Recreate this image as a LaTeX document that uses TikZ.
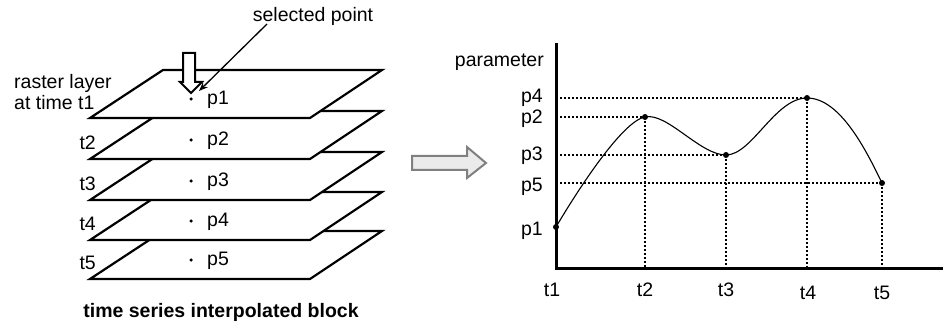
\documentclass[tikz,border=0pt]{standalone}
\usepackage{fontspec}
\setmainfont{Liberation Sans}
\usetikzlibrary{arrows.meta}
\begin{document}
\begin{tikzpicture}[x=1pt,y=-1pt,
  txt/.style={font=\fontsize{19.5}{23}\selectfont, inner sep=0pt},
  layer/.style={draw=black, line width=2.2pt, fill=white, line join=miter},
  smalldot/.style={circle, fill=black, inner sep=0pt, minimum size=3.5pt},
  bigdot/.style={circle, fill=black, inner sep=0pt, minimum size=6pt},
  guide/.style={line width=1.4pt, dash pattern=on 2pt off 2pt},
  axis/.style={line width=3pt},
  curve/.style={line width=1.1pt},
  pointer/.style={line width=1.3pt, -{Stealth[length=9pt,width=7pt]}},
  hollow/.style={draw=black, fill=white, line width=2pt, line join=miter},
  blockarrow/.style={draw=black!50, fill=black!8, line width=2pt, line join=miter}
]
\useasboundingbox (0,0) rectangle (943,326);

% ---- stack of raster layers (drawn bottom first) ----
\foreach \i/\top/\p/\t in {4/231/p5/t5, 3/192/p4/t4, 2/152/p3/t3, 1/111/p2/t2, 0/70/p1/t1}{
  \draw[layer] (163,\top) -- (382,\top) -- (310,\top+48) -- (90,\top+48) -- cycle;
  \node[smalldot] (d\i) at (191,\top+29) {};
  \node[txt, anchor=west] (l\i) at (207,\top+30) {\p};
}
\node[txt, anchor=east] (t2) at (96,143) {t2};
\node[txt, anchor=east] (t3) at (96,184) {t3};
\node[txt, anchor=east] (t4) at (96,224) {t4};
\node[txt, anchor=east] (t5) at (96,263) {t5};
\node[txt, anchor=west, align=left] (raster) at (14,92) {raster layer\\[-2pt]at time t1};

% hollow arrow pointing into the top layer
\draw[hollow] (183,53) -- (195,53) -- (195,82) -- (202,82) -- (191,93) -- (180,82) -- (183,82) -- cycle;

% selected point callout
\node[txt] (sel) at (313,16) {selected point};
\coordinate (selFrom) at (267,24);
\coordinate (selTip) at (199,91);
\draw[pointer] (selFrom) -- (selTip);

\node[txt, font=\fontsize{19.5}{23}\selectfont\bfseries] (caption) at (221,312) {time series interpolated block};

% ---- grey block arrow ----
\draw[blockarrow] (412,156) -- (467,156) -- (467,147) -- (486,163) -- (467,178) -- (467,170) -- (412,170) -- cycle;

% ---- parameter plot ----
\coordinate (O) at (556,268);
\coordinate (Ytop) at (556,43);
\coordinate (Xend) at (943,268);

\coordinate (P1) at (556,227);
\coordinate (P2) at (645,117);
\coordinate (P3) at (726,155);
\coordinate (P4) at (807,98);
\coordinate (P5) at (882,183);

% guide lines
\foreach \P in {P1,P2,P3,P4,P5}{
  \draw[guide] (O |- \P) -- (\P);
}
\foreach \P in {P2,P3,P4,P5}{
  \draw[guide] (\P) -- (\P |- O);
}

% interpolated curve
\draw[curve] (P1) .. controls (576,193) and (622,121) .. (P2)
             .. controls (667,112) and (700,155) .. (P3)
             .. controls (752,155) and (775,98) .. (P4)
             .. controls (840,98) and (866,150) .. (P5);

\foreach \P in {P1,P2,P3,P4,P5}{
  \node[bigdot] (dot\P) at (\P) {};
}

% axes
\draw[axis] (Ytop) -- (O) -- (Xend);

% axis labels
\node[txt, anchor=east] (par) at (544,62) {parameter};
\node[txt, anchor=east] (yp4) at (543,98) {p4};
\node[txt, anchor=east] (yp2) at (543,119) {p2};
\node[txt, anchor=east] (yp3) at (543,156) {p3};
\node[txt, anchor=east] (yp5) at (543,187) {p5};
\node[txt, anchor=east] (yp1) at (543,231) {p1};

\node[txt] (xt1) at (552,290) {t1};
\node[txt] (xt2) at (645,290) {t2};
\node[txt] (xt3) at (726,290) {t3};
\node[txt] (xt4) at (808,293) {t4};
\node[txt] (xt5) at (882,293) {t5};
\end{tikzpicture}
\end{document}
